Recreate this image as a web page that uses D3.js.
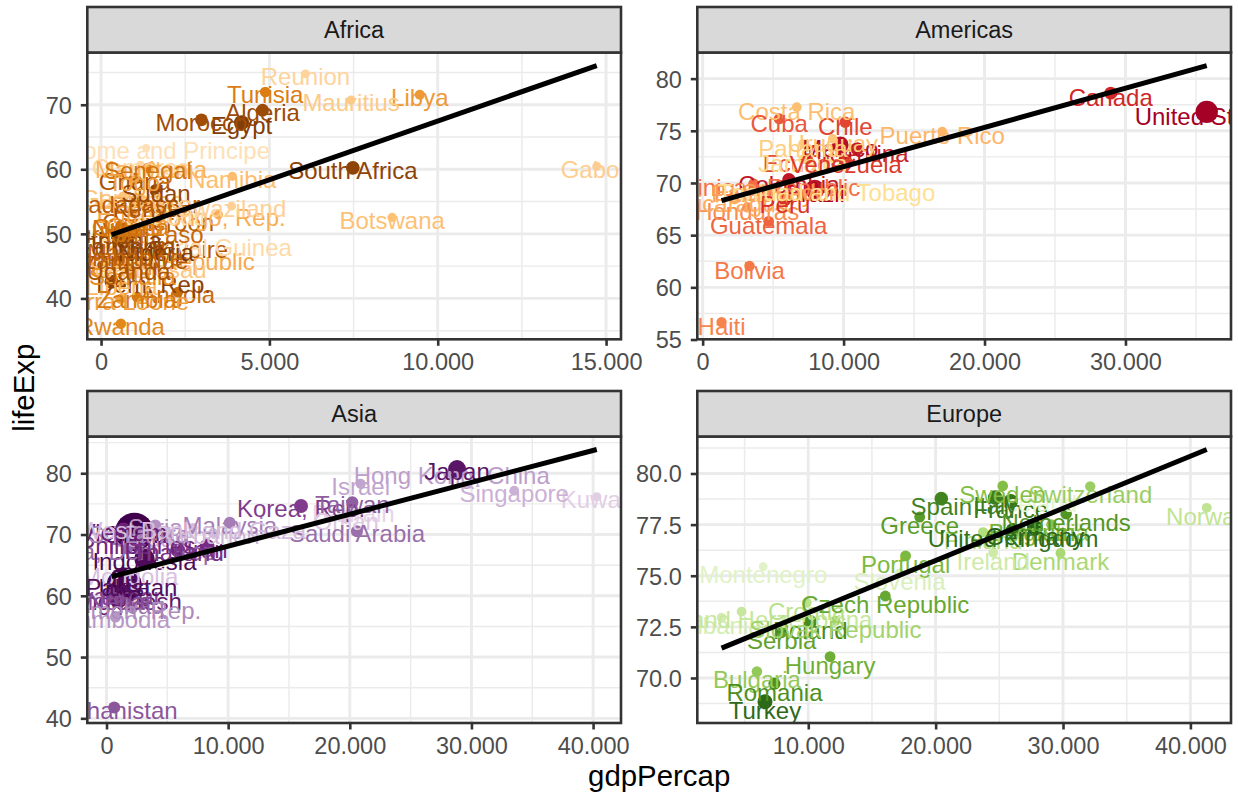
<!DOCTYPE html>
<html>
<head>
<meta charset="utf-8">
<script src="https://cdn.jsdelivr.net/npm/d3@7"></script>
<style>
  body { margin: 0; background: #ffffff; }
  svg { display: block; }
  text { font-family: "Liberation Sans", Arial, Helvetica, sans-serif; }
</style>
</head>
<body>
<svg id="chart" width="1238" height="798"></svg>
<script>
// ---------------- DATA (gapminder, year 1997) ----------------
const panelNames = ["Africa", "Americas", "Asia", "Europe"];

const africaCountries = ["Algeria","Angola","Benin","Botswana","Burkina Faso","Burundi","Cameroon","Central African Republic","Chad","Comoros","Congo, Dem. Rep.","Congo, Rep.","Cote d'Ivoire","Djibouti","Egypt","Equatorial Guinea","Eritrea","Ethiopia","Gabon","Gambia","Ghana","Guinea","Guinea-Bissau","Kenya","Lesotho","Liberia","Libya","Madagascar","Malawi","Mali","Mauritania","Mauritius","Morocco","Mozambique","Namibia","Niger","Nigeria","Reunion","Rwanda","Sao Tome and Principe","Senegal","Sierra Leone","Somalia","South Africa","Sudan","Swaziland","Tanzania","Togo","Tunisia","Uganda","Zambia","Zimbabwe"];
const africaLifeExp = [69.152,40.963,54.777,52.556,50.324,45.326,52.199,46.066,51.573,60.660,42.587,52.962,47.991,53.157,67.217,48.245,53.378,49.402,60.461,55.861,58.556,51.455,44.873,54.407,55.558,42.221,71.555,54.978,47.495,49.903,60.430,70.736,67.660,46.344,58.909,51.313,47.464,74.772,36.087,63.306,60.187,39.897,43.795,60.236,56.728,54.289,48.466,58.390,71.973,44.578,40.238,46.809];
const africaPop = [29072015,9875024,6066080,1536536,10352843,6121610,14195809,3696513,7562011,527982,47798986,2800947,14625967,417908,66134291,439971,4058319,59861301,1126189,1235767,18418288,8048834,1193708,28263827,1982823,2200725,4759670,14165114,10419991,9790426,2444741,1149818,28529501,16603334,1774766,9666252,106207839,684810,7212583,145608,9535314,4578212,6633514,42835005,32160729,1054486,30686889,4320890,9231669,21210254,9417789,11404948];
const africaGdp = [4797.295,2277.141,1232.975,8647.142,946.295,463.115,1694.337,740.506,1004.961,1173.619,312.188,3484.164,1786.265,1894.933,4173.182,2814.481,913.471,515.889,14722.84,653.730,1005.246,869.450,796.665,1360.485,1186.148,609.174,9467.446,986.296,692.276,790.258,1483.136,7425.705,2982.101,553.328,3899.524,580.305,1624.941,6071.941,589.945,1339.076,1392.368,574.648,930.596,7479.188,1632.210,3876.769,789.186,982.287,4876.799,816.559,1071.354,792.450];

const americasCountries = ["Argentina","Bolivia","Brazil","Canada","Chile","Colombia","Costa Rica","Cuba","Dominican Republic","Ecuador","El Salvador","Guatemala","Haiti","Honduras","Jamaica","Mexico","Nicaragua","Panama","Paraguay","Peru","Puerto Rico","Trinidad and Tobago","United States","Uruguay","Venezuela"];
const americasLifeExp = [73.275,62.050,69.388,78.610,75.816,70.313,77.260,76.151,69.957,72.312,69.535,66.322,56.671,67.659,72.262,73.670,68.426,73.738,69.400,68.386,74.917,69.465,76.810,74.223,72.146];
const americasPop = [36203463,7693188,168546719,30305843,14599929,37657830,3518107,10983007,7992357,11911819,5783439,9803875,6913545,5867957,2531311,95895146,4609572,2734531,5154123,24748122,3759430,1138101,272911760,3262838,22374398];
const americasGdp = [10967.28,3326.143,7957.981,28954.93,10118.05,6117.362,6677.045,5431.990,3614.101,7429.456,5154.825,4684.314,1341.727,3160.455,7121.925,9767.298,2253.023,7113.692,4247.400,5838.348,16999.43,8792.573,35767.43,9230.241,10165.50];

const asiaCountries = ["Afghanistan","Bahrain","Bangladesh","Cambodia","China","Hong Kong, China","India","Indonesia","Iran","Iraq","Israel","Japan","Jordan","Korea, Dem. Rep.","Korea, Rep.","Kuwait","Lebanon","Malaysia","Mongolia","Myanmar","Nepal","Oman","Pakistan","Philippines","Saudi Arabia","Singapore","Sri Lanka","Syria","Taiwan","Thailand","Vietnam","West Bank and Gaza","Yemen, Rep."];
const asiaLifeExp = [41.763,73.925,59.412,56.534,70.426,80.000,61.765,66.041,68.042,58.810,78.269,80.690,69.772,67.727,74.647,76.156,70.265,71.938,63.625,60.328,59.426,72.499,61.818,68.564,70.533,77.158,70.457,71.527,75.250,67.521,70.672,71.096,58.020];
const asiaPop = [22227415,598561,123315288,11782962,1230075000,6495918,959000000,199278000,63327987,20775703,5531387,125956499,4526235,21585105,46173816,1765345,3430388,20476091,2494803,43247867,23001113,2283635,135564834,75012988,21229759,3802309,18698655,15081016,21628605,60216677,76048996,2826046,15826497];
const asiaGdp = [635.341,20292.02,972.770,734.285,2289.234,28377.63,1458.817,3119.336,8263.590,3076.240,20896.61,28816.58,3645.380,1690.757,15993.53,40300.62,8754.964,10132.91,1902.252,415.000,1010.892,19702.06,2049.351,2536.535,20586.69,33519.48,2664.477,4014.239,20206.82,5852.625,1385.897,7110.668,2117.485];

const europeCountries = ["Albania","Austria","Belgium","Bosnia and Herzegovina","Bulgaria","Croatia","Czech Republic","Denmark","Finland","France","Germany","Greece","Hungary","Iceland","Ireland","Italy","Montenegro","Netherlands","Norway","Poland","Portugal","Romania","Serbia","Slovak Republic","Slovenia","Spain","Sweden","Switzerland","Turkey","United Kingdom"];
const europeLifeExp = [72.950,77.510,77.530,73.244,70.320,73.680,74.010,76.110,77.130,78.640,77.340,77.869,71.040,78.950,76.122,78.820,75.445,78.030,78.320,72.750,75.970,69.720,72.232,72.800,75.130,78.770,79.390,79.370,68.835,77.218];
const europePop = [3428038,8069876,10199787,4066699,8066057,4444595,10300707,5283663,5134406,58623428,82011073,10502372,10244684,271192,3667233,57479469,692651,15604464,4405672,38654957,10156415,22562458,10336594,5383010,2011612,39855442,8897619,7193761,63047647,58808266];
const europeGdp = [3193.055,29095.92,27561.20,4766.356,5970.389,9875.605,16048.51,29804.35,23723.95,25889.78,27788.88,18747.70,11712.78,28061.10,24521.95,24675.02,6465.613,30246.13,41283.16,10159.58,17641.03,7346.548,7914.320,12126.23,17161.11,20445.30,25266.59,32135.32,6601.430,26074.53];

// tick values
const africaXTicks = [0, 5000, 10000, 15000];
const africaYTicks = [40, 50, 60, 70];
const americasXTicks = [0, 10000, 20000, 30000];
const americasYTicks = [55, 60, 65, 70, 75, 80];
const asiaXTicks = [0, 10000, 20000, 30000, 40000];
const asiaYTicks = [40, 50, 60, 70, 80];
const europeXTicks = [10000, 20000, 30000, 40000];
const europeYTicks = [70, 72.5, 75, 77.5, 80];

const xTitle = "gdpPercap";
const yTitle = "lifeExp";

// ---------------- STYLE / LAYOUT ----------------
const PT = 2.136;               // px per point
const FONT_TICK = 23.5, FONT_LABEL = 24, FONT_TITLE = 29.4;
const NUDGE = 0.4;
const cols = [[87.3, 621], [697.3, 1231]];
const rows = [{ strip: [7, 52.5], panel: [52.5, 339.3] }, { strip: [391, 436.5], panel: [436.5, 723] }];
const palettes = [
  ["#7F3B08", "#B35806", "#E08214", "#FDB863", "#FEE0B6"],
  ["#A50026", "#D73027", "#F46D43", "#FDAE61", "#FEE090"],
  ["#40004B", "#762A83", "#9970AB", "#C2A5CF", "#E7D4E8"],
  ["#276419", "#4D9221", "#7FBC41", "#B8E186", "#E6F5D0"]
];

const panels = [
  { c: africaCountries, l: africaLifeExp, p: africaPop, g: africaGdp, xt: africaXTicks, yt: africaYTicks, yf: d3.format("d") },
  { c: americasCountries, l: americasLifeExp, p: americasPop, g: americasGdp, xt: americasXTicks, yt: americasYTicks, yf: d3.format("d") },
  { c: asiaCountries, l: asiaLifeExp, p: asiaPop, g: asiaGdp, xt: asiaXTicks, yt: asiaYTicks, yf: d3.format("d") },
  { c: europeCountries, l: europeLifeExp, p: europePop, g: europeGdp, xt: europeXTicks, yt: europeYTicks, yf: d3.format(".1f") }
];

const svg = d3.select("#chart");
svg.append("rect").attr("width", 1238).attr("height", 798).attr("fill", "#ffffff");

const allPop = panels.flatMap(d => d.p);
const popMin = d3.min(allPop), popMax = d3.max(allPop);
const sizeScale = d3.scaleSqrt().domain([0, popMax - popMin]).range([1, 6]);
const radius = pop => (sizeScale(pop - popMin) * 72.27 / 25.4 + 0.5 * (96 / 25.4) / 2) * PT / 2;
const fmtX = v => d3.format(",.0f")(v).replace(/,/g, ".");

function expand(ext) {
  const r = ext[1] - ext[0];
  return [ext[0] - 0.05 * r, ext[1] + 0.05 * r];
}
function minorBreaks(t, dom) {
  const step = t[1] - t[0];
  const out = [];
  for (let v = t[0] - step / 2; v <= t[t.length - 1] + step / 2 + 1e-9; v += step) {
    if (v >= dom[0] && v <= dom[1]) out.push(v);
  }
  return out;
}

panels.forEach((P, i) => {
  const col = cols[i % 2], row = rows[Math.floor(i / 2)];
  const x0 = col[0], x1 = col[1], y0 = row.panel[0], y1 = row.panel[1];
  const n = P.c.length;
  const idx = d3.range(n);

  // linear regression (geom_smooth method = "lm")
  const mx = d3.mean(P.g), my = d3.mean(P.l);
  let sxy = 0, sxx = 0;
  idx.forEach(k => { sxy += (P.g[k] - mx) * (P.l[k] - my); sxx += (P.g[k] - mx) ** 2; });
  const slope = sxy / sxx, icpt = my - slope * mx;
  const gExt = d3.extent(P.g);
  const fit = gExt.map(v => icpt + slope * v);

  const xDom = expand(gExt);
  const yDom = expand(d3.extent([...P.l, ...P.l.map(v => v - NUDGE), ...fit]));
  const x = d3.scaleLinear().domain(xDom).range([x0, x1]);
  const y = d3.scaleLinear().domain(yDom).range([y1, y0]);

  // colors ranked by population within continent
  const ramp = d3.piecewise(d3.interpolateRgb, palettes[i]);
  const order = idx.slice().sort((a, b) => P.p[b] - P.p[a]);
  const color = new Array(n);
  order.forEach((k, r) => { color[k] = ramp(r / (n - 1)); });

  const g = svg.append("g");
  g.append("rect").attr("x", x0).attr("y", y0).attr("width", x1 - x0).attr("height", y1 - y0).attr("fill", "#ffffff");

  const clipId = "clip" + i;
  svg.append("clipPath").attr("id", clipId).append("rect")
    .attr("x", x0).attr("y", y0).attr("width", x1 - x0).attr("height", y1 - y0);
  const inner = g.append("g").attr("clip-path", `url(#${clipId})`);

  // grid
  const xMinor = minorBreaks(P.xt, xDom), yMinor = minorBreaks(P.yt, yDom);
  inner.selectAll(".xmin").data(xMinor).join("line")
    .attr("x1", d => x(d)).attr("x2", d => x(d)).attr("y1", y0).attr("y2", y1)
    .attr("stroke", "#EBEBEB").attr("stroke-width", 1.45);
  inner.selectAll(".ymin").data(yMinor).join("line")
    .attr("y1", d => y(d)).attr("y2", d => y(d)).attr("x1", x0).attr("x2", x1)
    .attr("stroke", "#EBEBEB").attr("stroke-width", 1.45);
  inner.selectAll(".xmaj").data(P.xt).join("line")
    .attr("x1", d => x(d)).attr("x2", d => x(d)).attr("y1", y0).attr("y2", y1)
    .attr("stroke", "#EBEBEB").attr("stroke-width", 2.9);
  inner.selectAll(".ymaj").data(P.yt).join("line")
    .attr("y1", d => y(d)).attr("y2", d => y(d)).attr("x1", x0).attr("x2", x1)
    .attr("stroke", "#EBEBEB").attr("stroke-width", 2.9);

  // points
  inner.selectAll(".pt").data(idx).join("circle")
    .attr("cx", k => x(P.g[k])).attr("cy", k => y(P.l[k]))
    .attr("r", k => radius(P.p[k]))
    .attr("fill", k => color[k]);

  // labels
  inner.selectAll(".lab").data(idx).join("text")
    .attr("x", k => x(P.g[k]))
    .attr("y", k => y(P.l[k] - NUDGE) + 0.36 * FONT_LABEL)
    .attr("text-anchor", "middle")
    .attr("font-size", FONT_LABEL)
    .attr("fill", k => color[k])
    .text(k => P.c[k]);

  // lm line
  inner.append("line")
    .attr("x1", x(gExt[0])).attr("y1", y(fit[0]))
    .attr("x2", x(gExt[1])).attr("y2", y(fit[1]))
    .attr("stroke", "#000000").attr("stroke-width", 5);

  // panel border
  g.append("rect").attr("x", x0).attr("y", y0).attr("width", x1 - x0).attr("height", y1 - y0)
    .attr("fill", "none").attr("stroke", "#333333").attr("stroke-width", 2.6);

  // strip
  const s0 = row.strip[0], s1 = row.strip[1];
  g.append("rect").attr("x", x0).attr("y", s0).attr("width", x1 - x0).attr("height", s1 - s0)
    .attr("fill", "#D9D9D9").attr("stroke", "#333333").attr("stroke-width", 2.6);
  g.append("text").attr("x", (x0 + x1) / 2).attr("y", (s0 + s1) / 2 + 0.36 * FONT_TICK)
    .attr("text-anchor", "middle").attr("font-size", FONT_TICK).attr("fill", "#1A1A1A")
    .text(panelNames[i]);

  // axes
  const ax = g.append("g").attr("transform", `translate(0,${y1})`)
    .call(d3.axisBottom(x).tickValues(P.xt).tickSize(6.5).tickPadding(8).tickFormat(fmtX));
  const ay = g.append("g").attr("transform", `translate(${x0},0)`)
    .call(d3.axisLeft(y).tickValues(P.yt).tickSize(6.5).tickPadding(9).tickFormat(P.yf));
  [ax, ay].forEach(a => {
    a.attr("font-family", null).attr("font-size", null);
    a.select(".domain").remove();
    a.selectAll(".tick line").attr("stroke", "#333333").attr("stroke-width", 2.6);
    a.selectAll(".tick text").attr("fill", "#4D4D4D").attr("font-size", FONT_TICK);
  });
  ay.selectAll(".tick text").attr("dy", "0.36em");
});

// axis titles (centred over the panel area)
svg.append("text").attr("x", (cols[0][0] + cols[1][1]) / 2).attr("y", 786)
  .attr("text-anchor", "middle").attr("font-size", FONT_TITLE).attr("fill", "#000000").text(xTitle);
svg.append("text").attr("transform", `translate(34,${(rows[0].panel[0] + rows[1].panel[1]) / 2}) rotate(-90)`)
  .attr("text-anchor", "middle").attr("font-size", FONT_TITLE).attr("fill", "#000000").text(yTitle);
</script>
</body>
</html>
